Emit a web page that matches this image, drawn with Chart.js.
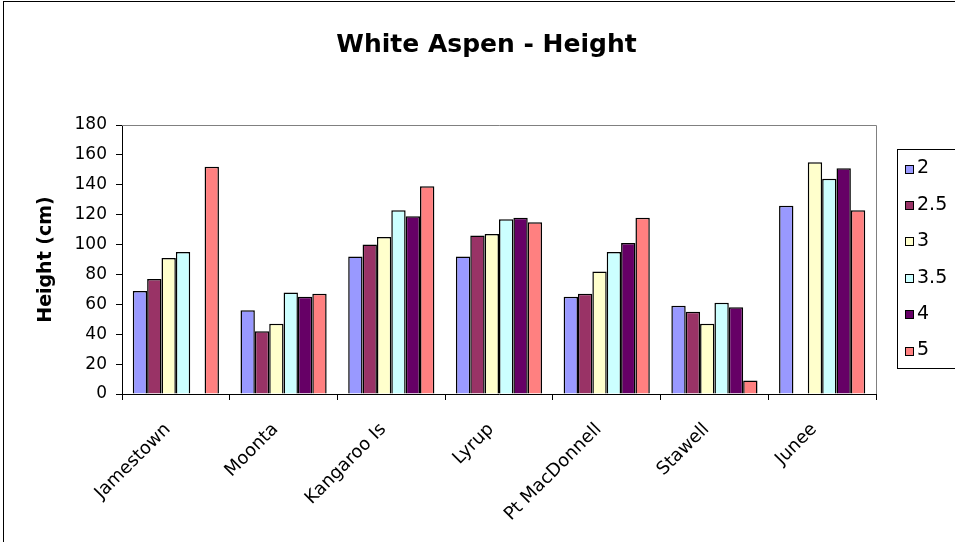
<!DOCTYPE html>
<html>
<head>
<meta charset="utf-8">
<script src="https://cdn.jsdelivr.net/npm/chart.js@4.4.1/dist/chart.umd.min.js"></script>
<style>
  html, body { margin: 0; padding: 0; background: #fff; overflow: hidden; width: 955px; height: 542px; }
  #wrap { position: absolute; left: 3px; top: 1px; width: 990px; height: 570px; border: 1px solid #000; }
  canvas { display: block; }
</style>
</head>
<body>
<div id="wrap"><canvas id="chart" width="990" height="570"></canvas></div>
<script>
// data ======================================================================
const sites = ["Jamestown", "Moonta", "Kangaroo Is", "Lyrup", "Pt MacDonnell", "Stawell", "Junee"];
const seriesNames = ["2", "2.5", "3", "3.5", "4", "5"];
const h2 = [69, 56, 92, 92, 65, 59, 126];
const h25 = [77, 42, 100, 106, 67, 55, null];
const h3 = [91, 47, 105, 107, 82, 47, 155];
const h35 = [95, 68, 123, 117, 95, 61, 144];
const h4 = [null, 65, 119, 118, 101, 58, 151];
const h5 = [152, 67, 139, 115, 118, 9, 123];
const colours = ["#9999FF", "#993366", "#FFFFCC", "#CCFFFF", "#660066", "#FF8080"];

const allSeries = [h2, h25, h3, h35, h4, h5];
const FONT = "'DejaVu Sans', sans-serif";

// khung vien o ve + chu giai
const framePlugin = {
  id: "frame",
  afterDraw(chart) {
    const { ctx, chartArea } = chart;
    ctx.save();
    ctx.strokeStyle = "#808080";
    ctx.lineWidth = 1;
    ctx.beginPath();
    ctx.moveTo(chartArea.left, chartArea.top + 0.5);
    ctx.lineTo(chartArea.right + 0.5, chartArea.top + 0.5);
    ctx.lineTo(chartArea.right + 0.5, chartArea.bottom);
    ctx.stroke();

    // legend
    const lx = 893, ly = 147, lh = 219;
    ctx.strokeStyle = "#000";
    ctx.strokeRect(lx + 0.5, ly + 0.5, 120, lh);
    ctx.font = "19px " + FONT;
    ctx.textBaseline = "middle";
    chart.data.datasets.forEach((ds, i) => {
      const cy = ly + 19.5 + i * 36.4;
      ctx.fillStyle = ds.backgroundColor;
      ctx.fillRect(lx + 8.5, Math.round(cy - 4) + 0.5, 8, 8);
      ctx.strokeStyle = "#000";
      ctx.strokeRect(lx + 8.5, Math.round(cy - 4) + 0.5, 8, 8);
      ctx.fillStyle = "#000";
      ctx.fillText(ds.label, lx + 20, cy);
    });
    ctx.restore();
  },
};

new Chart(document.getElementById("chart"), {
  type: "bar",
  data: {
    labels: sites,
    datasets: seriesNames.map((name, i) => ({
      label: name,
      data: allSeries[i],
      backgroundColor: colours[i],
      borderColor: "#000",
      borderWidth: 1.5,
      categoryPercentage: 0.8,
      barPercentage: 1,
      yAxisID: "y",
    })),
  },
  options: {
    responsive: false,
    animation: false,
    devicePixelRatio: 1,
    layout: { padding: { left: 0, right: 25, top: 0, bottom: 0 } },
    plugins: {
      legend: { display: false },
      tooltip: { enabled: false },
      title: {
        display: true,
        text: "White Aspen - Height",
        color: "#000",
        font: { family: FONT, size: 25, weight: "bold" },
        padding: { top: 28, bottom: 65 },
      },
    },
    scales: {
      x: {
        afterFit: (s) => { s.height = 570 - 392; },
        grid: { offset: true, drawOnChartArea: false, tickLength: 6, color: "#000" },
        border: { color: "#000", width: 1 },
        ticks: {
          color: "#000",
          font: { family: FONT, size: 18 },
          minRotation: 45,
          maxRotation: 45,
          autoSkip: false,
          padding: 19,
          labelOffset: -8,
        },
      },
      y: {
        min: 0,
        max: 180,
        afterFit: (s) => { s.width = 118; },
        grid: { drawOnChartArea: false, tickLength: 6, color: "#000" },
        border: { color: "#000", width: 1 },
        ticks: {
          stepSize: 20,
          color: "#000",
          font: { family: FONT, size: 17 },
          padding: 9,
        },
        title: {
          display: true,
          text: "Height (cm)",
          color: "#000",
          font: { family: FONT, size: 19, weight: "bold" },
          padding: { top: 31, bottom: 0 },
        },
      },
      // truc an ben phai, chua cho cho chu giai
      yLegend: {
        position: "right",
        display: true,
        afterFit: (s) => { s.width = 93; },
        grid: { display: false },
        border: { display: false },
        ticks: { display: false },
      },
    },
  },
  plugins: [framePlugin],
});
</script>
</body>
</html>
